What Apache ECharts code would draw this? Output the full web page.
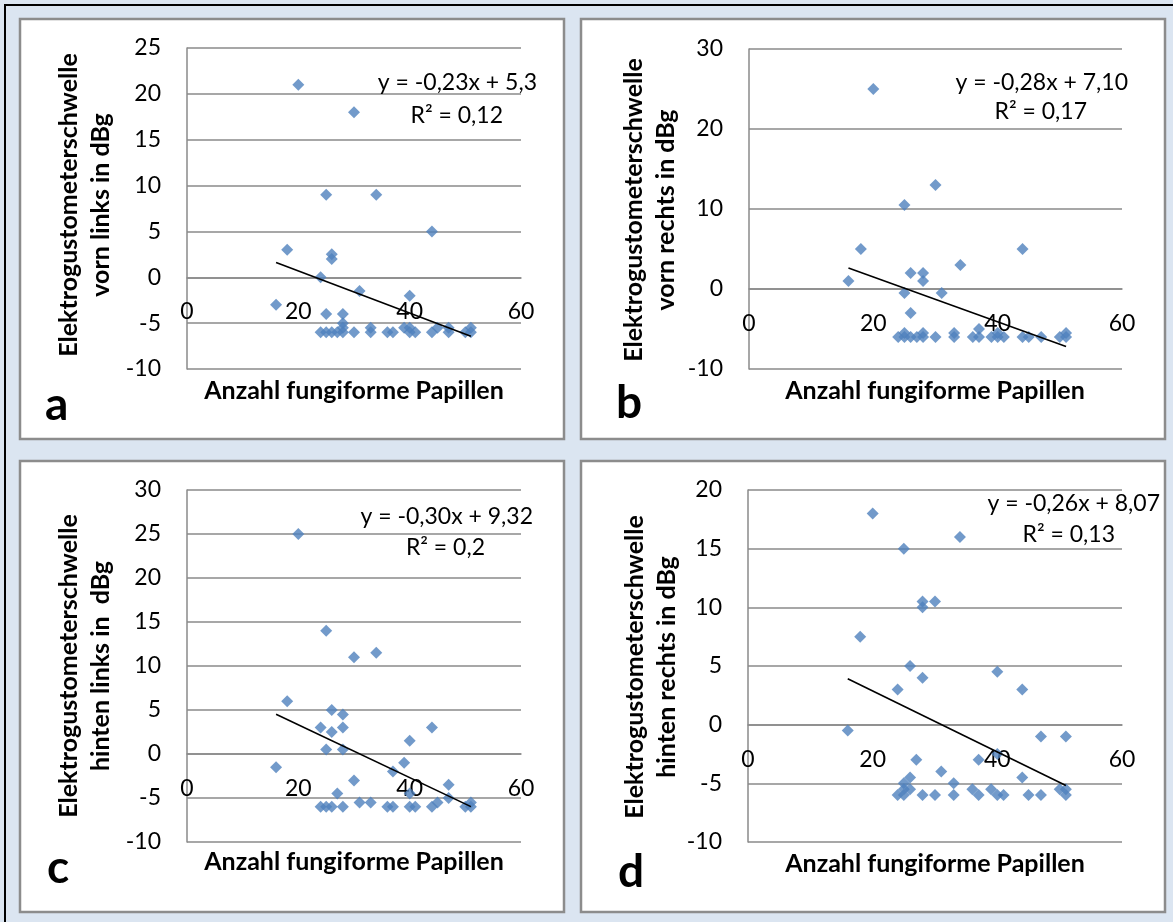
<!DOCTYPE html>
<html>
<head>
<meta charset="utf-8">
<script src="https://cdn.jsdelivr.net/npm/echarts@6/dist/echarts.min.js"></script>
<style>
  html, body { margin: 0; padding: 0; background: #dbe5f1; }
  #chart { width: 1173px; height: 922px; }
</style>
</head>
<body>
<div id="chart"></div>
<script>
// Anzahl fungiforme Papillen (x) vs. Elektrogustometerschwelle in dBg (y), four tongue regions

const xTicks = [0, 20, 40, 60];

// a: vorn links
const xA = [20, 30, 25, 34, 44, 18, 26, 26, 24, 31, 40, 16, 25, 28, 28, 28, 33, 39, 40, 45, 47, 51,
            24, 25, 26, 27, 28, 30, 33, 36, 37, 40, 41, 44, 47, 50, 51];
const yA = [21, 18, 9, 9, 5, 3, 2.5, 2, 0, -1.5, -2, -3, -4, -4, -5, -5.5, -5.5, -5.5, -5.5, -5.5, -5.5, -5.5,
            -6, -6, -6, -6, -6, -6, -6, -6, -6, -6, -6, -6, -6, -6, -6];

// b: vorn rechts
const xB = [20, 30, 25, 18, 44, 34, 26, 28, 16, 28, 25, 31, 26, 37, 25, 28, 33, 40, 51,
            24, 25, 26, 27, 28, 30, 33, 36, 37, 39, 40, 41, 44, 45, 47, 50, 51];
const yB = [25, 13, 10.5, 5, 5, 3, 2, 2, 1, 1, -0.5, -0.5, -3, -5, -5.5, -5.5, -5.5, -5.5, -5.5,
            -6, -6, -6, -6, -6, -6, -6, -6, -6, -6, -6, -6, -6, -6, -6, -6, -6];

// c: hinten links
const xC = [20, 25, 30, 34, 18, 26, 28, 24, 28, 44, 26, 40, 25, 28, 39, 16, 37, 30, 47, 27, 40, 47, 31, 33, 45, 51,
            24, 25, 26, 28, 36, 37, 40, 41, 44, 50, 51];
const yC = [25, 14, 11, 11.5, 6, 5, 4.5, 3, 3, 3, 2.5, 1.5, 0.5, 0.5, -1, -1.5, -2, -3, -3.5, -4.5, -4.5, -5, -5.5, -5.5, -5.5, -5.5,
            -6, -6, -6, -6, -6, -6, -6, -6, -6, -6, -6];

// d: hinten rechts
const xD = [20, 34, 25, 28, 30, 28, 18, 26, 40, 28, 24, 44, 16, 47, 51, 40, 27, 37, 31, 26, 44, 25, 33, 26, 25, 36, 39, 50, 51,
            24, 25, 28, 30, 33, 37, 40, 41, 45, 47, 51];
const yD = [18, 16, 15, 10.5, 10.5, 10, 7.5, 5, 4.5, 4, 3, 3, -0.5, -1, -1, -2.5, -3, -3, -4, -4.5, -4.5, -5, -5, -5.5, -5.5, -5.5, -5.5, -5.5, -5.5,
            -6, -6, -6, -6, -6, -6, -6, -6, -6, -6, -6];

// linear trend lines as printed on the charts
const slopes = [-0.23, -0.28, -0.30, -0.26];
const intercepts = [5.3, 7.10, 9.32, 8.07];
const eqLabels = ['y = -0,23x + 5,3', 'y = -0,28x + 7,10', 'y = -0,30x + 9,32', 'y = -0,26x + 8,07'];
const r2Labels = ['R² = 0,12', 'R² = 0,17', 'R² = 0,2', 'R² = 0,13'];

// y axis ranges and steps
const yMins = [-10, -10, -10, -10];
const yMaxs = [25, 30, 30, 20];
const ySteps = [5, 10, 5, 5];

const panelLetters = ['a', 'b', 'c', 'd'];
const yTitles = [
  'Elektrogustometerschwelle\nvorn links in dBg',
  'Elektrogustometerschwelle\nvorn rechts in dBg',
  'Elektrogustometerschwelle\nhinten links in  dBg',
  'Elektrogustometerschwelle\nhinten rechts in dBg'
];
const xTitle = 'Anzahl fungiforme Papillen';

const xs = [xA, xB, xC, xD];
const ys = [yA, yB, yC, yD];

// layout of the four panels
const layout = [
  { box: [20, 19, 544, 420],  grid: [187, 48, 334, 321],  yTitle: [85, 205],  xTitle: [354, 391], letter: [45, 405],  eq: [537, 83],  r2: [503, 116] },
  { box: [581, 19, 584, 420], grid: [749, 49, 373, 320],  yTitle: [650, 210], xTitle: [935, 391], letter: [616, 403], eq: [1128, 83], r2: [1087, 112] },
  { box: [20, 461, 544, 451], grid: [187, 490, 334, 352], yTitle: [85, 666],  xTitle: [354, 862], letter: [47, 868],  eq: [533, 517], r2: [485, 548] },
  { box: [581, 461, 584, 451], grid: [748, 490, 374, 352], yTitle: [651, 667], xTitle: [935, 864], letter: [618, 872], eq: [1160, 504], r2: [1115, 535] }
];

const FONT = 'Lato, "Open Sans", sans-serif';
const GRID_GRAY = '#8a8a8a';
const MARKER = '#4f81bd';

const grids = [], xAxes = [], yAxes = [], series = [], graphics = [];

// outer frame
graphics.push({
  type: 'rect', z: -20, silent: true,
  shape: { x: 5, y: 5, width: 1300, height: 1100 },
  style: { fill: '#dbe5f1', stroke: '#000', lineWidth: 2 }
});

layout.forEach((L, i) => {
  const gh = L.grid[3];
  grids.push({ left: L.grid[0], top: L.grid[1], width: L.grid[2], height: gh, containLabel: false });

  // horizontal axis is lifted from the bottom edge to where y = 0
  const zeroLift = gh * (0 - yMins[i]) / (yMaxs[i] - yMins[i]);
  xAxes.push({
    type: 'value', gridIndex: i, position: 'bottom', offset: -zeroLift,
    min: xTicks[0], max: xTicks[xTicks.length - 1], interval: xTicks[1] - xTicks[0],
    axisLine: { show: true, onZero: false, lineStyle: { color: GRID_GRAY, width: 1.5 } },
    axisTick: { show: false },
    splitLine: { show: false },
    axisLabel: { color: '#000', fontFamily: FONT, fontSize: 23, margin: 23 }
  });

  yAxes.push({
    type: 'value', gridIndex: i, min: yMins[i], max: yMaxs[i], interval: ySteps[i],
    axisLine: { show: true, onZero: false, lineStyle: { color: GRID_GRAY, width: 1.5 } },
    axisTick: { show: false },
    splitLine: { show: true, lineStyle: { color: GRID_GRAY, width: 1.5 } },
    axisLabel: { color: '#000', fontFamily: FONT, fontSize: 23, margin: 26 }
  });

  const pts = xs[i].map((x, k) => [x, ys[i][k]]);
  series.push({
    type: 'scatter', xAxisIndex: i, yAxisIndex: i, data: pts,
    symbol: 'diamond', symbolSize: 12,
    itemStyle: { color: MARKER }, silent: true, z: 3
  });

  // trend line spans the observed x range
  const x0 = Math.min(...xs[i]), x1 = Math.max(...xs[i]);
  series.push({
    type: 'line', xAxisIndex: i, yAxisIndex: i,
    data: [[x0, slopes[i] * x0 + intercepts[i]], [x1, slopes[i] * x1 + intercepts[i]]],
    showSymbol: false, symbol: 'none', silent: true, z: 4,
    lineStyle: { color: '#000', width: 1.6 }
  });

  // panel background and border
  graphics.push({
    type: 'rect', z: -10, silent: true,
    shape: { x: L.box[0], y: L.box[1], width: L.box[2], height: L.box[3] },
    style: { fill: '#fff', stroke: '#8c8c8c', lineWidth: 2.5 }
  });

  graphics.push({
    type: 'text', silent: true, x: L.yTitle[0], y: L.yTitle[1], rotation: Math.PI / 2,
    style: { text: yTitles[i], font: 'bold 25px ' + FONT, fill: '#000', align: 'center', verticalAlign: 'middle', lineHeight: 32 }
  });
  graphics.push({
    type: 'text', silent: true, x: L.xTitle[0], y: L.xTitle[1],
    style: { text: xTitle, font: 'bold 25px ' + FONT, fill: '#000', align: 'center', verticalAlign: 'middle' }
  });
  graphics.push({
    type: 'text', silent: true, x: L.letter[0], y: L.letter[1],
    style: { text: panelLetters[i], font: 'bold 46px ' + FONT, fill: '#000', align: 'left', verticalAlign: 'middle' }
  });
  graphics.push({
    type: 'text', silent: true, x: L.eq[0], y: L.eq[1], z: 10,
    style: { text: eqLabels[i], font: '23px ' + FONT, fill: '#000', align: 'right', verticalAlign: 'middle' }
  });
  graphics.push({
    type: 'text', silent: true, x: L.r2[0], y: L.r2[1], z: 10,
    style: { text: r2Labels[i], font: '23px ' + FONT, fill: '#000', align: 'right', verticalAlign: 'middle' }
  });
});

const chart = echarts.init(document.getElementById('chart'), null, { renderer: 'canvas' });
chart.setOption({
  backgroundColor: '#dbe5f1',
  animation: false,
  grid: grids,
  xAxis: xAxes,
  yAxis: yAxes,
  series: series,
  graphic: { elements: graphics }
});
</script>
</body>
</html>
